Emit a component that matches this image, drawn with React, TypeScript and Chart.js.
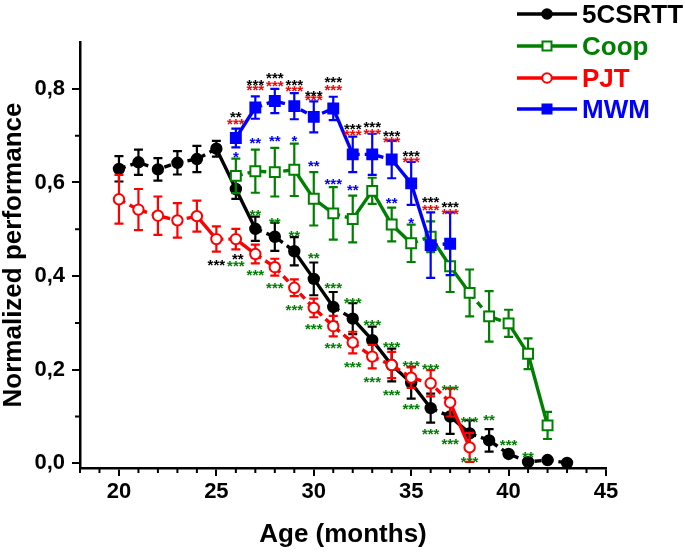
import { useEffect, useRef } from "react";
import { Chart, registerables } from "chart.js";

Chart.register(...registerables);

// ---------------- data ----------------
const csrttAge = [20, 21, 22, 23, 24, 25, 26, 27, 28, 29, 30, 31, 32, 33, 34, 35, 36, 37, 38, 39, 40, 41, 42, 43];
const csrttVal = [0.629, 0.643, 0.628, 0.642, 0.650, 0.672, 0.586, 0.501, 0.484, 0.453, 0.394, 0.334, 0.309, 0.263, 0.210, 0.172, 0.118, 0.100, 0.064, 0.049, 0.020, 0.003, 0.007, 0.001];
const csrttErr = [0.027, 0.027, 0.024, 0.025, 0.028, 0.017, 0.021, 0.026, 0.030, 0.030, 0.035, 0.032, 0.033, 0.029, 0.035, 0.034, 0.031, 0.037, 0.028, 0.024, 0.005, 0.003, 0.003, 0.002];
const csrttSolidFrom = [25, 26, 29, 30, 32, 33, 34, 35, 37];

const coopAge = [26, 27, 28, 29, 30, 31, 32, 33, 34, 35, 36, 37, 38, 39, 40, 41, 42];
const coopVal = [0.614, 0.624, 0.622, 0.627, 0.565, 0.534, 0.522, 0.582, 0.510, 0.470, 0.484, 0.421, 0.364, 0.314, 0.299, 0.234, 0.081];
const coopErr = [0.037, 0.046, 0.052, 0.056, 0.057, 0.056, 0.050, 0.028, 0.036, 0.040, 0.033, 0.055, 0.050, 0.054, 0.029, 0.033, 0.029];
const coopSolidFrom = [29, 30, 32, 33, 34, 36, 37, 40, 41];

const pjtAge = [20, 21, 22, 23, 24, 25, 26, 27, 28, 29, 30, 31, 32, 33, 34, 35, 36, 37, 38];
const pjtVal = [0.564, 0.542, 0.529, 0.519, 0.528, 0.479, 0.479, 0.447, 0.419, 0.375, 0.332, 0.293, 0.258, 0.228, 0.210, 0.183, 0.171, 0.130, 0.034];
const pjtErr = [0.052, 0.044, 0.041, 0.037, 0.033, 0.027, 0.022, 0.020, 0.018, 0.018, 0.020, 0.022, 0.023, 0.025, 0.028, 0.022, 0.028, 0.030, 0.031];
const pjtSolidFrom = [24, 26, 37];

const mwmAge = [26, 27, 28, 29, 30, 31, 32, 33, 34, 35, 36, 37];
const mwmVal = [0.695, 0.760, 0.774, 0.763, 0.740, 0.758, 0.660, 0.660, 0.649, 0.598, 0.466, 0.469];
const mwmErr = [0.020, 0.024, 0.026, 0.028, 0.033, 0.025, 0.038, 0.044, 0.040, 0.046, 0.070, 0.067];
const mwmSolidFrom = [26, 31, 34, 35];

// significance marks: [age, value, text]
const starsBlack: [number, number, string][] = [
  [26, 0.748, "**"], [27, 0.816, "***"], [28, 0.831, "***"], [29, 0.816, "***"], [30, 0.793, "***"],
  [31, 0.822, "***"], [32, 0.721, "***"], [33, 0.726, "***"], [34, 0.707, "***"], [35, 0.665, "***"],
  [36, 0.566, "***"], [37, 0.556, "***"], [25, 0.432, "***"], [26.1, 0.444, "**"],
];
const starsRed: [number, number, string][] = [
  [26, 0.732, "***"], [27, 0.804, "***"], [28, 0.813, "***"], [29, 0.802, "***"], [30, 0.783, "***"],
  [31, 0.805, "***"], [32, 0.708, "***"], [33, 0.711, "***"], [34, 0.693, "***"], [35, 0.651, "***"],
  [36, 0.548, "***"], [37, 0.540, "***"],
];
const starsBlue: [number, number, string][] = [
  [26, 0.661, "*"], [27, 0.691, "**"], [28, 0.697, "**"], [29, 0.695, "*"], [30, 0.642, "**"],
  [31, 0.605, "***"], [32, 0.591, "**"], [34, 0.564, "**"], [35, 0.521, "*"],
];
const starsGreen: [number, number, string][] = [
  [26, 0.430, "***"], [27, 0.538, "**"], [27, 0.409, "***"], [28, 0.521, "**"], [28, 0.383, "***"],
  [29, 0.494, "**"], [29, 0.334, "***"], [30, 0.447, "**"], [30, 0.295, "***"], [31, 0.381, "***"],
  [31, 0.253, "***"], [32, 0.351, "***"], [32, 0.213, "***"], [33, 0.304, "***"], [33, 0.181, "***"],
  [34, 0.255, "***"], [34, 0.154, "***"], [35, 0.215, "***"], [35, 0.124, "***"], [36, 0.209, "***"],
  [36, 0.071, "***"], [37, 0.164, "***"], [37, 0.049, "***"], [38, 0.096, "***"], [38, 0.011, "***"],
  [39, 0.101, "**"], [40, 0.047, "***"], [41, 0.022, "**"],
];

const xTicks = [20, 25, 30, 35, 40, 45];
const xMinorTicks = [18, 19, 21, 22, 23, 24, 26, 27, 28, 29, 31, 32, 33, 34, 36, 37, 38, 39, 41, 42, 43, 44];
const yTicks = [0, 0.2, 0.4, 0.6, 0.8];
const yMinorTicks = [0.1, 0.3, 0.5, 0.7];

const seriesNames = ["5CSRTT", "Coop", "PJT", "MWM"];

// ---------------- styles ----------------
const BLACK = "#000000";
const GREEN = "#008000";
const RED = "#ff0000";
const BLUE = "#0000ff";
const FONT = "'Liberation Sans', Arial, sans-serif";
const DASH = [7, 5];

function pts(ages: number[], vals: number[]) {
  return ages.map((a, i) => ({ x: a, y: vals[i] }));
}

function makeDataset(label: string, ages: number[], vals: number[], errs: number[], solidFrom: number[], color: string, style: string, filled: boolean) {
  return {
    label,
    data: pts(ages, vals),
    errors: errs,
    borderColor: color,
    backgroundColor: color,
    borderWidth: 3.4,
    pointStyle: style,
    pointRadius: style === "rect" ? 7 : 5.2,
    pointBorderWidth: 2,
    pointBorderColor: color,
    pointBackgroundColor: filled ? color : "#ffffff",
    fill: false,
    tension: 0,
    segment: {
      borderDash: (ctx: any) => (solidFrom.includes(ages[ctx.p0DataIndex]) ? [] : DASH),
    },
  };
}

const errorBarPlugin = {
  id: "errorBars",
  beforeDatasetDraw(chart: any, args: any) {
    const ds = chart.data.datasets[args.index];
    const errs: number[] = ds.errors;
    if (!errs) return;
    const { ctx, scales } = chart;
    const xs = scales.x, ys = scales.y;
    ctx.save();
    ctx.strokeStyle = ds.borderColor;
    ctx.lineWidth = 2.2;
    ctx.setLineDash([]);
    ds.data.forEach((p: any, i: number) => {
      const x = xs.getPixelForValue(p.x);
      const yt = ys.getPixelForValue(p.y + errs[i]);
      const yb = ys.getPixelForValue(p.y - errs[i]);
      ctx.beginPath();
      ctx.moveTo(x, yt);
      ctx.lineTo(x, yb);
      ctx.moveTo(x - 4.5, yt);
      ctx.lineTo(x + 4.5, yt);
      ctx.moveTo(x - 4.5, yb);
      ctx.lineTo(x + 4.5, yb);
      ctx.stroke();
    });
    ctx.restore();
  },
};

const starsPlugin = {
  id: "stars",
  afterDatasetsDraw(chart: any) {
    const { ctx, scales } = chart;
    const groups: [[number, number, string][], string][] = [
      [starsBlack, BLACK], [starsRed, RED], [starsBlue, BLUE], [starsGreen, GREEN],
    ];
    ctx.save();
    ctx.font = `bold 15px ${FONT}`;
    ctx.textAlign = "center";
    ctx.textBaseline = "alphabetic";
    groups.forEach(([list, color]) => {
      ctx.fillStyle = color;
      list.forEach(([a, v, t]) => {
        const x = scales.x.getPixelForValue(a);
        const y = scales.y.getPixelForValue(v);
        ctx.fillText(t, x, y + 8.5);
      });
    });
    ctx.restore();
  },
};

const minorTickPlugin = {
  id: "minorTicks",
  afterDraw(chart: any) {
    const { ctx, scales, chartArea } = chart;
    ctx.save();
    ctx.strokeStyle = BLACK;
    ctx.lineWidth = 2;
    ctx.beginPath();
    xMinorTicks.forEach((v) => {
      const x = scales.x.getPixelForValue(v);
      ctx.moveTo(x, chartArea.bottom);
      ctx.lineTo(x, chartArea.bottom + 5);
    });
    yMinorTicks.forEach((v) => {
      const y = scales.y.getPixelForValue(v);
      ctx.moveTo(chartArea.left, y);
      ctx.lineTo(chartArea.left - 5, y);
    });
    ctx.stroke();
    ctx.restore();
  },
};

const legendPlugin = {
  id: "customLegend",
  afterDraw(chart: any) {
    const { ctx } = chart;
    const order = ["5CSRTT", "Coop", "PJT", "MWM"];
    const rows = [14, 46, 78, 109];
    ctx.save();
    order.forEach((name, r) => {
      const ds = chart.data.datasets.find((d: any) => d.label === name);
      const y = rows[r];
      ctx.strokeStyle = ds.borderColor;
      ctx.lineWidth = 3.4;
      ctx.setLineDash([]);
      ctx.beginPath();
      ctx.moveTo(517, y);
      ctx.lineTo(577, y);
      ctx.stroke();
      ctx.lineWidth = 2;
      ctx.fillStyle = ds.pointBackgroundColor;
      ctx.beginPath();
      if (ds.pointStyle === "rect") {
        ctx.rect(547 - 4.5, y - 4.5, 9, 9);
      } else {
        ctx.arc(547, y, 4.8, 0, Math.PI * 2);
      }
      ctx.fill();
      ctx.stroke();
      ctx.fillStyle = ds.borderColor;
      ctx.font = `bold 26px ${FONT}`;
      ctx.textAlign = "left";
      ctx.textBaseline = "alphabetic";
      ctx.fillText(name, 582, y + 9);
    });
    ctx.restore();
  },
};

export default function App() {
  const canvasRef = useRef<HTMLCanvasElement | null>(null);

  useEffect(() => {
    if (!canvasRef.current) return;
    const datasets = [
      makeDataset(seriesNames[3], mwmAge, mwmVal, mwmErr, mwmSolidFrom, BLUE, "rect", true),
      makeDataset(seriesNames[2], pjtAge, pjtVal, pjtErr, pjtSolidFrom, RED, "circle", false),
      makeDataset(seriesNames[1], coopAge, coopVal, coopErr, coopSolidFrom, GREEN, "rect", false),
      makeDataset(seriesNames[0], csrttAge, csrttVal, csrttErr, csrttSolidFrom, BLACK, "circle", true),
    ];
    const chart = new Chart(canvasRef.current, {
      type: "line",
      data: { datasets: datasets as any },
      options: {
        animation: false,
        responsive: true,
        maintainAspectRatio: false,
        layout: { padding: { top: 42, right: 79, left: 0, bottom: 0 } },
        plugins: { legend: { display: false }, tooltip: { enabled: false } },
        events: [],
        scales: {
          x: {
            type: "linear",
            min: 18,
            max: 45,
            afterFit: (s: any) => { s.height = 85; },
            afterBuildTicks: (s: any) => { s.ticks = xTicks.map((v) => ({ value: v })); },
            grid: { display: true, drawOnChartArea: false, color: BLACK, lineWidth: 2, tickLength: 8 },
            border: { display: true, color: BLACK, width: 2.5 },
            ticks: {
              color: BLACK,
              padding: 3,
              maxRotation: 0,
              autoSkip: false,
              font: { family: FONT, size: 22, weight: "bold" },
              callback: (v: any) => String(v),
            },
            title: {
              display: true,
              text: "Age (months)",
              color: BLACK,
              font: { family: FONT, size: 26, weight: "bold", lineHeight: 1 },
              padding: { top: 0, bottom: 5 },
            },
          },
          y: {
            type: "linear",
            min: -0.01,
            max: 0.9,
            afterFit: (s: any) => { s.width = 80; },
            afterBuildTicks: (s: any) => { s.ticks = yTicks.map((v) => ({ value: v })); },
            grid: { display: true, drawOnChartArea: false, color: BLACK, lineWidth: 2, tickLength: 8 },
            border: { display: true, color: BLACK, width: 2.5 },
            ticks: {
              color: BLACK,
              padding: 7,
              autoSkip: false,
              font: { family: FONT, size: 22, weight: "bold" },
              callback: (v: any) => Number(v).toFixed(1).replace(".", ","),
            },
            title: {
              display: true,
              text: "Normalized performance",
              color: BLACK,
              font: { family: FONT, size: 26, weight: "bold", lineHeight: 1 },
              padding: { top: 1, bottom: 0 },
            },
          },
        },
      },
      plugins: [errorBarPlugin, starsPlugin, minorTickPlugin, legendPlugin],
    });
    return () => chart.destroy();
  }, []);

  return (
    <div style={{ position: "absolute", left: 0, top: 0, width: 685, height: 553, background: "#fff" }}>
      <canvas ref={canvasRef} style={{ display: "block" }} />
    </div>
  );
}
